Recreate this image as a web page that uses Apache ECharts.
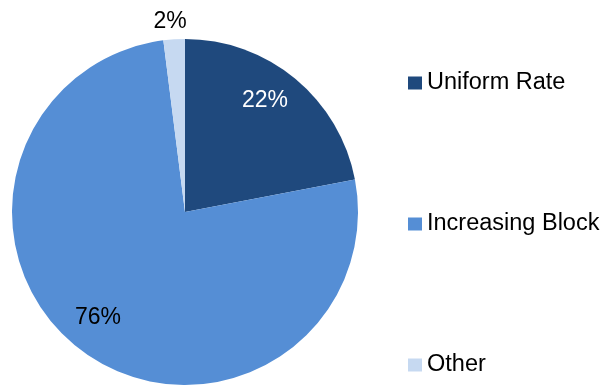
<!DOCTYPE html>
<html>
<head>
<meta charset="utf-8">
<style>
  html, body { margin: 0; padding: 0; background: #ffffff; }
  #chart { width: 603px; height: 386px; }
</style>
<script src="https://cdn.jsdelivr.net/npm/echarts@6/dist/echarts.min.js"></script>
</head>
<body>
<div id="chart"></div>
<script>
// Rate structure shares
const categories = ['Uniform Rate', 'Increasing Block', 'Other'];
const shares = [22, 76, 2];
const sliceColors = ['#1F497D', '#558ED5', '#C6D9F1'];
const labelColors = ['#ffffff', '#000000', '#000000'];

const FONT = 'Liberation Sans, Arial, sans-serif';
const cx = 185, cy = 212, R = 173;

// where each percentage label sits (pixel anchors, label centred on them)
const labelAnchors = [[265, 101], [98, 318], [170, 22]];

const chart = echarts.init(document.getElementById('chart'), null, { renderer: 'canvas' });

chart.setOption({
  animation: false,
  backgroundColor: '#ffffff',
  legend: {
    orient: 'vertical',
    left: 408,
    top: 71,
    padding: 0,
    itemWidth: 14,
    itemHeight: 13,
    itemGap: 117,
    icon: 'rect',
    data: categories,
    textStyle: {
      fontFamily: FONT,
      fontSize: 23.5,
      lineHeight: 24,
      color: '#000000'
    }
  },
  series: [{
    type: 'pie',
    center: [cx, cy],
    radius: R,
    startAngle: 90,
    clockwise: true,
    avoidLabelOverlap: false,
    label: {
      show: true,
      position: 'inside',
      formatter: '{c}%',
      fontFamily: FONT,
      fontSize: 23
    },
    labelLine: { show: false },
    labelLayout: function (params) {
      const p = labelAnchors[params.dataIndex];
      return { x: p[0], y: p[1], align: 'center', verticalAlign: 'middle' };
    },
    data: categories.map((name, i) => ({
      name: name,
      value: shares[i],
      itemStyle: { color: sliceColors[i] },
      label: { color: labelColors[i] }
    }))
  }]
});
</script>
</body>
</html>
